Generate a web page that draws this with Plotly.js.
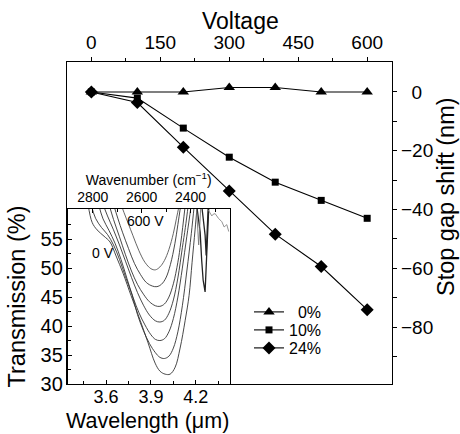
<!DOCTYPE html>
<html>
<head>
<meta charset="utf-8">
<script src="https://cdn.plot.ly/plotly-3.0.1.min.js"></script>
<style>html,body{margin:0;padding:0;background:#fff;}#chart{width:460px;height:434px;}</style>
</head>
<body>
<div id="chart"></div>
<script>
// ---- main plot data ----
const voltage = [0, 100, 200, 300, 400, 500, 600];
const shift0 = [0, 0, 0, 1.5, 1.5, 0, 0];
const shift10 = [0, -2.1, -12.3, -22.2, -30.7, -36.9, -43.0];
const shift24 = [0, -3.6, -18.8, -33.7, -48.4, -59.4, -74.1];
const seriesNames = ['\u20070%', '10%', '24%'];
const voltageTicks = [0, 150, 300, 450, 600];
const shiftTicks = [0, -20, -40, -60, -80];
const shiftTickText = ['\u20070', '\u221220', '\u221240', '\u221260', '\u221280'];

// ---- inset spectra (wavelength in um, transmission in %) ----
const wl0V = [3.48, 3.507, 3.54, 3.587, 3.627, 3.667, 3.714, 3.768, 3.828, 3.881, 3.928, 3.961, 3.995, 4.028, 4.062, 4.095, 4.129, 4.155, 4.175, 4.195, 4.21];
const t0V = [61, 57.9, 56.6, 55.5, 54.5, 52.1, 49.1, 45.2, 41.0, 37.1, 33.6, 32.2, 31.7, 31.7, 32.9, 36.2, 41.0, 45.3, 51.0, 56.6, 61];
const wl100V = [3.50, 3.53, 3.57, 3.61, 3.65, 3.69, 3.73, 3.775, 3.81, 3.85, 3.89, 3.93, 3.96, 3.99, 4.02, 4.05, 4.08, 4.11, 4.14, 4.17, 4.19];
const t100V = [61, 58.6, 57.0, 55.8, 54.0, 51.5, 48.5, 45.3, 42.0, 39.2, 37.0, 35.4, 34.6, 34.4, 34.8, 36.2, 39.0, 43.5, 49.5, 56.0, 61];
const wl200V = [3.55, 3.58, 3.62, 3.66, 3.70, 3.74, 3.78, 3.82, 3.86, 3.90, 3.93, 3.96, 3.99, 4.02, 4.05, 4.08, 4.11, 4.14, 4.17];
const t200V = [61, 58.5, 56.5, 54.3, 51.5, 48.2, 45.0, 42.3, 40.2, 38.5, 37.7, 37.5, 37.8, 39.0, 41.3, 45.0, 50.0, 55.5, 61];
const wl300V = [3.58, 3.61, 3.65, 3.69, 3.73, 3.77, 3.81, 3.85, 3.89, 3.93, 3.96, 3.99, 4.02, 4.05, 4.08, 4.11, 4.13, 4.15];
const t300V = [61, 59, 56.6, 54, 51.2, 48.4, 45.8, 43.6, 41.9, 40.9, 40.7, 41.0, 42.2, 44.5, 48.3, 53.5, 57.0, 61];
const wl400V = [3.62, 3.65, 3.69, 3.73, 3.77, 3.81, 3.85, 3.89, 3.93, 3.96, 3.99, 4.02, 4.05, 4.08, 4.10, 4.13];
const t400V = [61, 58.4, 55.4, 52.3, 49.5, 47.2, 45.5, 44.2, 43.5, 43.4, 43.8, 45.0, 47.3, 51.0, 54.5, 61];
const wl500V = [3.65, 3.68, 3.71, 3.75, 3.79, 3.83, 3.87, 3.91, 3.94, 3.97, 4.00, 4.03, 4.06, 4.08, 4.10];
const t500V = [61, 58.5, 56.2, 53.4, 50.8, 48.9, 47.5, 46.9, 46.8, 47.2, 48.3, 50.6, 54.2, 57.5, 61];
const wl600V = [3.70, 3.72, 3.75, 3.78, 3.82, 3.86, 3.90, 3.93, 3.96, 3.99, 4.02, 4.05, 4.07, 4.09];
const t600V = [61, 59.6, 57.6, 55.6, 53.0, 51.0, 49.9, 49.7, 50.2, 51.3, 53.2, 56.0, 58.5, 61];
// noisy absorption region and tail
const wlNoiseA = [4.209, 4.222, 4.229, 4.239, 4.249, 4.262, 4.269, 4.276, 4.286];
const tNoiseA = [60.2, 57.8, 56.2, 51.4, 47.9, 45.9, 49.7, 54.8, 60.2];
const wlNoiseB = [4.242, 4.252, 4.262, 4.269, 4.276, 4.282];
const tNoiseB = [60.2, 58.3, 55.7, 52.2, 56.5, 60.2];
const wlNoiseC = [4.205, 4.212, 4.219, 4.226, 4.232];
const tNoiseC = [60.2, 56.5, 54.0, 57.0, 60.2];
const wlTail = [4.284, 4.296, 4.307, 4.316, 4.329, 4.351, 4.374, 4.389, 4.407, 4.420];
const tTail = [60.0, 59.5, 59.0, 59.3, 59.4, 58.6, 58.0, 57.1, 57.5, 56.3];
const wlTicks = [3.6, 3.9, 4.2];
const transTicks = [30, 35, 40, 45, 50, 55];
const wnTicks = [2800, 2600, 2400];

const FONT = 'Liberation Sans, Arial, Helvetica, sans-serif';
const traces = [];
const mainStyle = [
  {y: shift0, sym: 'triangle-up', size: 10, lg: 'legend'},
  {y: shift10, sym: 'square', size: 7, lg: 'legend2'},
  {y: shift24, sym: 'diamond', size: 10, lg: 'legend3'}
];
mainStyle.forEach((s, i) => {
  traces.push({
    x: voltage, y: s.y, name: seriesNames[i], type: 'scatter', mode: 'lines+markers',
    xaxis: 'x', yaxis: 'y', legend: s.lg,
    line: {color: '#000', width: 1.1},
    marker: {symbol: s.sym, size: s.size, color: '#000'}
  });
});
const spectra = [
  [wl0V, t0V], [wl100V, t100V], [wl200V, t200V], [wl300V, t300V],
  [wl400V, t400V], [wl500V, t500V], [wl600V, t600V]
];
spectra.forEach(([xs, ys], i) => {
  traces.push({
    x: xs, y: ys, type: 'scatter', mode: 'lines', xaxis: 'x2', yaxis: 'y2', showlegend: false,
    line: {color: i === 6 ? '#555' : '#333', width: 0.9, shape: 'spline', smoothing: 1}, hoverinfo: 'skip'
  });
});
traces.push({x: wlNoiseA, y: tNoiseA, type: 'scatter', mode: 'lines', xaxis: 'x2', yaxis: 'y2', showlegend: false, line: {color: '#222', width: 1.3}, hoverinfo: 'skip'});
traces.push({x: wlNoiseB, y: tNoiseB, type: 'scatter', mode: 'lines', xaxis: 'x2', yaxis: 'y2', showlegend: false, line: {color: '#222', width: 1.3}, hoverinfo: 'skip'});
traces.push({x: wlNoiseC, y: tNoiseC, type: 'scatter', mode: 'lines', xaxis: 'x2', yaxis: 'y2', showlegend: false, line: {color: '#777', width: 0.9}, hoverinfo: 'skip'});
traces.push({x: wlTail, y: tTail, type: 'scatter', mode: 'lines', xaxis: 'x2', yaxis: 'y2', showlegend: false, line: {color: '#888', width: 0.9}, hoverinfo: 'skip'});
traces.push({x: [2800, 2400], y: [45, 45], type: 'scatter', mode: 'markers', marker: {opacity: 0, size: 1}, xaxis: 'x3', yaxis: 'y2', showlegend: false, hoverinfo: 'skip'});

const ax = {showgrid: false, zeroline: false, showline: true, linecolor: '#000', linewidth: 1.2,
  tickcolor: '#000', tickwidth: 1, automargin: false, color: '#000'};
const lg = (yc) => ({x: 249 / 460, xanchor: 'left', y: (434 - yc) / 434, yanchor: 'middle',
  bgcolor: 'rgba(0,0,0,0)', borderwidth: 0, font: {size: 16, family: FONT, color: '#000'}});

const layout = {
  width: 460, height: 434,
  margin: {l: 0, r: 0, t: 0, b: 0},
  paper_bgcolor: '#fff', plot_bgcolor: '#fff',
  font: {family: FONT, color: '#000'},
  showlegend: true,
  legend: lg(312), legend2: lg(330), legend3: lg(348),
  xaxis: Object.assign({}, ax, {
    domain: [67 / 460, 392 / 460], anchor: 'y', side: 'top', range: [-53, 654],
    tickvals: voltageTicks, ticks: 'outside', ticklen: 4,
    minor: {tickvals: [75, 225, 375, 525], ticks: 'outside', ticklen: 3, tickcolor: '#000'},
    mirror: true, tickfont: {size: 19}
  }),
  yaxis: Object.assign({}, ax, {
    domain: [50 / 434, 372 / 434], anchor: 'x', side: 'right', range: [-99.4, 10.2],
    tickvals: shiftTicks, ticktext: shiftTickText,
    ticks: 'outside', ticklen: 4,
    minor: {tickvals: [-10, -30, -50, -70, -90], ticks: 'outside', ticklen: 4, tickcolor: '#000'},
    mirror: true, tickfont: {size: 19}
  }),
  xaxis2: Object.assign({}, ax, {
    domain: [68 / 460, 229.5 / 460], anchor: 'y2', range: [3.346, 4.425],
    tickvals: wlTicks, ticktext: wlTicks.map(v => v.toFixed(1)), ticks: 'inside', ticklen: 4,
    ticklabelstandoff: -4,
    minor: {tickvals: [3.45, 3.75, 4.05, 4.35], ticks: 'inside', ticklen: 3, tickcolor: '#000'},
    mirror: false, tickfont: {size: 18}
  }),
  yaxis2: Object.assign({}, ax, {
    domain: [50 / 434, 225 / 434], anchor: 'x2', range: [30, 60.2],
    tickvals: transTicks, ticks: 'inside', ticklen: 4,
    minor: {tickvals: [32.5, 37.5, 42.5, 47.5, 52.5, 57.5], ticks: 'inside', ticklen: 3, tickcolor: '#000'},
    mirror: true, tickfont: {size: 20},
    title: {text: 'Transmission (%)', font: {size: 23.5}, standoff: 8}
  }),
  xaxis3: Object.assign({}, ax, {
    overlaying: 'x2', anchor: 'y2', side: 'top', range: [2901, 2241],
    tickvals: wnTicks, ticks: 'inside', ticklen: 4,
    minor: {tickvals: [2700, 2500, 2300], ticks: 'inside', ticklen: 3, tickcolor: '#000'},
    tickfont: {size: 14},
    title: {text: 'Wavenumber (cm<sup>\u22121</sup>)', font: {size: 14}, standoff: 0}
  }),
  annotations: [
    {xref: 'paper', yref: 'paper', x: 240 / 460, y: (434 - 21) / 434, xanchor: 'center', yanchor: 'middle',
      text: 'Voltage', showarrow: false, font: {size: 23}},
    {xref: 'paper', yref: 'paper', x: 446 / 460, y: (434 - 197) / 434, xanchor: 'center', yanchor: 'middle',
      text: 'Stop gap shift (nm)', textangle: -90, showarrow: false, font: {size: 23.5}},
    {xref: 'paper', yref: 'paper', x: 147 / 460, y: 0, xanchor: 'center', yanchor: 'bottom',
      text: 'Wavelength (\u03bcm)', showarrow: false, font: {size: 21.5}, borderpad: 0},
    {xref: 'x2', yref: 'y2', x: 3.861, y: 58.1, text: '600 V', showarrow: false, font: {size: 14}},
    {xref: 'x2', yref: 'y2', x: 3.58, y: 52.6, text: '0 V', showarrow: false, font: {size: 14}}
  ]
};

Plotly.newPlot('chart', traces, layout, {displayModeBar: false, staticPlot: true});
</script>
</body>
</html>
